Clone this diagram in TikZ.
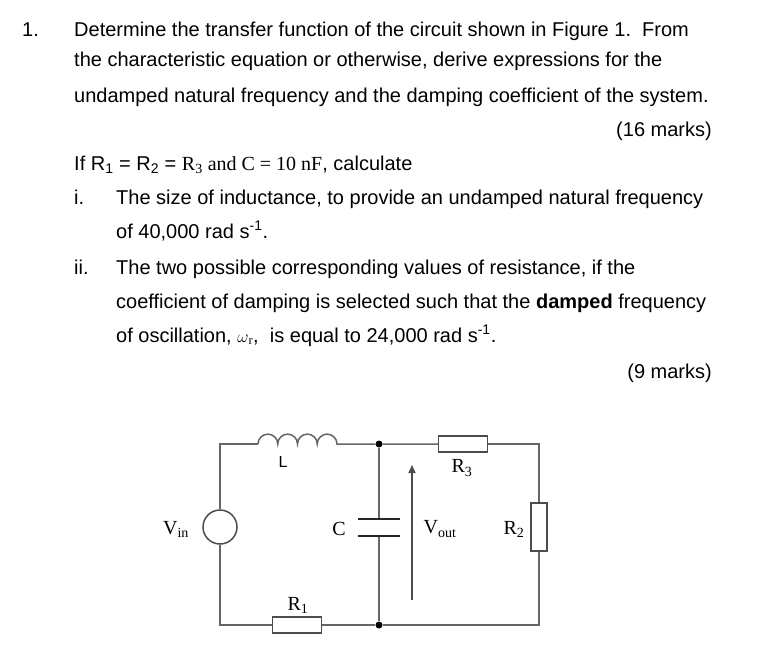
\documentclass[tikz,border=0pt]{standalone}
\usepackage{fontspec}
\setmainfont{Liberation Sans}
\newfontfamily\tms{Liberation Serif}
\usetikzlibrary{arrows.meta}
\begin{document}
\begin{tikzpicture}[x=1pt,y=-1pt,
  txt/.style={anchor=base west,inner sep=0pt,font=\fontsize{20}{24}\selectfont},
  txr/.style={anchor=base east,inner sep=0pt,font=\fontsize{20}{24}\selectfont},
  wire/.style={draw=black!60,line width=1.5pt},
  res/.style={draw=black!70,line width=1.5pt,fill=white,minimum width=49pt,minimum height=16pt,inner sep=0pt},
  resv/.style={draw=black!70,line width=1.5pt,fill=white,minimum width=16pt,minimum height=48pt,inner sep=0pt},
  lab/.style={inner sep=0pt,font=\tms\fontsize{20}{24}\selectfont},
  dot/.style={circle,fill=black,inner sep=0pt,minimum size=7pt}]
\useasboundingbox (0,0) rectangle (770,667);
\node[txt] (n1) at (22,36) {1.};
\node[txt] (l1) at (74,36) {Determine the transfer function of the circuit shown in Figure 1.\ \ From};
\node[txt] (l2) at (74,66) {the characteristic equation or otherwise, derive expressions for the};
\node[txt] (l3) at (74,102) {undamped natural frequency and the damping coefficient of the system.};
\node[txr] (m1) at (712,136) {(16 marks)};
\node[txt] (l4) at (74,170) {If R\textsubscript{1} = R\textsubscript{2} = {\tms R\textsubscript{3} and C = 10 nF}, calculate};
\node[txt] (i1) at (74,204) {i.};
\node[txt] (l5) at (116,204) {The size of inductance, to provide an undamped natural frequency};
\node[txt] (l6) at (116,238) {of 40,000 rad s\textsuperscript{-1}.};
\node[txt] (i2) at (74,274) {ii.};
\node[txt] (l7) at (116,274) {The two possible corresponding values of resistance, if the};
\node[txt] (l8) at (116,308) {coefficient of damping is selected such that the \textbf{damped} frequency};
\node[txt] (l9) at (116,342) {of oscillation, {\tms\fontsize{18}{20}\selectfont $\omega$\textsubscript{r}},\ \ is equal to 24,000 rad s\textsuperscript{-1}.};
\node[txr] (m2) at (712,378) {(9 marks)};
% circuit
\coordinate (tl) at (220,444);
\coordinate (tr) at (539,444);
\coordinate (bl) at (220,625);
\coordinate (br) at (539,625);
\coordinate (Ls) at (258,444);
\node[dot] (nt) at (379,444) {};
\node[dot] (nb) at (379,625) {};
\node[circle,draw=black!70,line width=1.5pt,minimum size=34pt,inner sep=0pt] (src) at (220,527) {};
\node[res] (R3) at (463,444) {};
\node[resv] (R2) at (539,527) {};
\node[res] (R1) at (297,625) {};
\coordinate (c1) at (379,519);
\coordinate (c2) at (379,536);
\draw[wire] (src.north) -- (tl) -- (Ls);
\draw[wire] (Ls) arc[start angle=180,end angle=0,radius=9.875pt]
  arc[start angle=180,end angle=0,radius=9.875pt]
  arc[start angle=180,end angle=0,radius=9.875pt]
  arc[start angle=180,end angle=0,radius=9.875pt] -- (nt) -- (R3.west);
\draw[wire] (R3.east) -- (tr) -- (R2.north);
\draw[wire] (R2.south) -- (br) -- (nb) -- (R1.east);
\draw[wire] (R1.west) -- (bl) -- (src.south);
\draw[wire] (nt) -- (c1);
\draw[wire] (c2) -- (nb);
\draw[draw=black!85,line width=1.6pt] ([xshift=-21pt]c1) -- ([xshift=21pt]c1);
\draw[draw=black!85,line width=1.6pt] ([xshift=-21pt]c2) -- ([xshift=21pt]c2);
\coordinate (a0) at (412,600);
\coordinate (a1) at (412,465);
\draw[black!70,line width=1.5pt,-{Triangle[length=8pt,width=7pt]}] (a0) -- (a1);
\node[inner sep=0pt,font=\fontsize{16}{18}\selectfont] (Ll) at (283,462) {L};
\node[lab] (R3l) at (462,468) {R\textsubscript{3}};
\node[lab] (Vin) at (176,529) {V\textsubscript{in}};
\node[lab] (Cl) at (339,529) {C};
\node[lab] (Vo) at (440,529) {V\textsubscript{out}};
\node[lab] (R2l) at (514,529) {R\textsubscript{2}};
\node[lab] (R1l) at (298,605) {R\textsubscript{1}};
\end{tikzpicture}
\end{document}
